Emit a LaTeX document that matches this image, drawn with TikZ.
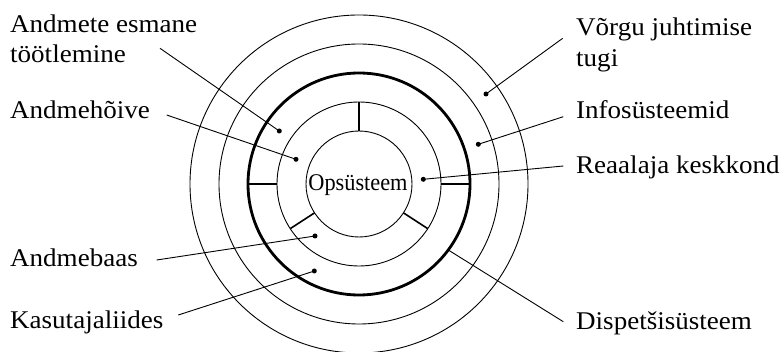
\documentclass[tikz,border=0pt]{standalone}
\usepackage{fontspec}
\usetikzlibrary{calc}
\setmainfont[FakeStretch=1.06]{Liberation Serif}
\newfontfamily\opsfont[FakeStretch=0.93]{Liberation Serif}
\begin{document}
\begin{tikzpicture}[x=1pt,y=-1pt,
  thinring/.style={line width=0.9pt},
  thickring/.style={line width=2.8pt},
  spoke/.style={line width=1.6pt},
  leader/.style={line width=0.9pt},
  lbl/.style={inner sep=0pt,anchor=base west,align=left,font=\fontsize{25.5pt}{30.5pt}\selectfont},
  dotmark/.style={circle,fill=black,inner sep=0pt,minimum size=5pt}]
\useasboundingbox (0,0) rectangle (782,352);
\coordinate (c) at (359,184);
% rings
\draw[thinring] (c) circle (53pt);
\draw[thinring] (c) circle (82pt);
\draw[thickring] (c) circle (111pt);
\draw[thinring] (c) circle (140pt);
\draw[thinring] (c) circle (169pt);
% spokes between inner rings
\draw[spoke] ($(c)+(-90:53)$) -- ($(c)+(-90:82)$);
\draw[spoke] ($(c)+(147:53)$) -- ($(c)+(147:82)$);
\draw[spoke] ($(c)+(33:53)$) -- ($(c)+(33:82)$);
% spokes between fourth ring and thick ring
\draw[spoke] ($(c)+(180:82)$) -- ($(c)+(180:111)$);
\draw[spoke] ($(c)+(0:82)$) -- ($(c)+(0:111)$);
% centre text
\node[inner sep=0pt,anchor=base,font=\opsfont\fontsize{24pt}{28pt}\selectfont] (ops) at (358,190.5) {Opsüsteem};
% labels (two-line labels anchored at the baseline of their last line)
\node[lbl] (l1) at (10,62.8) {Andmete esmane\\töötlemine};
\node[lbl] (l2) at (10,118.3) {Andmehõive};
\node[lbl] (l3) at (10,266.7) {Andmebaas};
\node[lbl] (l4) at (10,328.3) {Kasutajaliides};
\node[lbl] (r1) at (576,66.5) {Võrgu juhtimise\\tugi};
\node[lbl] (r2) at (576,118.3) {Infosüsteemid};
\node[lbl] (r3) at (576,173.3) {Reaalaja keskkond};
\node[lbl] (r4) at (576,330) {Dispetšisüsteem};
% dots
\node[dotmark] (d1) at (279.3,131) {};
\node[dotmark] (d2) at (296,159.3) {};
\node[dotmark] (d3) at (315,236) {};
\node[dotmark] (d4) at (314.3,271) {};
\node[dotmark] (e1) at (486,94) {};
\node[dotmark] (e2) at (478.3,144.3) {};
\node[dotmark] (e3) at (423.3,179.3) {};
\coordinate (e4) at (448.3,250);
% leader start points
\coordinate (s1) at (160,48.3);
\coordinate (s2) at (166.7,115);
\coordinate (s3) at (156.7,260);
\coordinate (s4) at (178.3,315);
\coordinate (t1) at (562.7,38.3);
\coordinate (t2) at (563.3,116.7);
\coordinate (t3) at (563.3,166);
\coordinate (t4) at (563.3,321.7);
\draw[leader] (s1) -- (d1.center);
\draw[leader] (s2) -- (d2.center);
\draw[leader] (s3) -- (d3.center);
\draw[leader] (s4) -- (d4.center);
\draw[leader] (t1) -- (e1.center);
\draw[leader] (t2) -- (e2.center);
\draw[leader] (t3) -- (e3.center);
\draw[leader] (t4) -- (e4);
\end{tikzpicture}
\end{document}
